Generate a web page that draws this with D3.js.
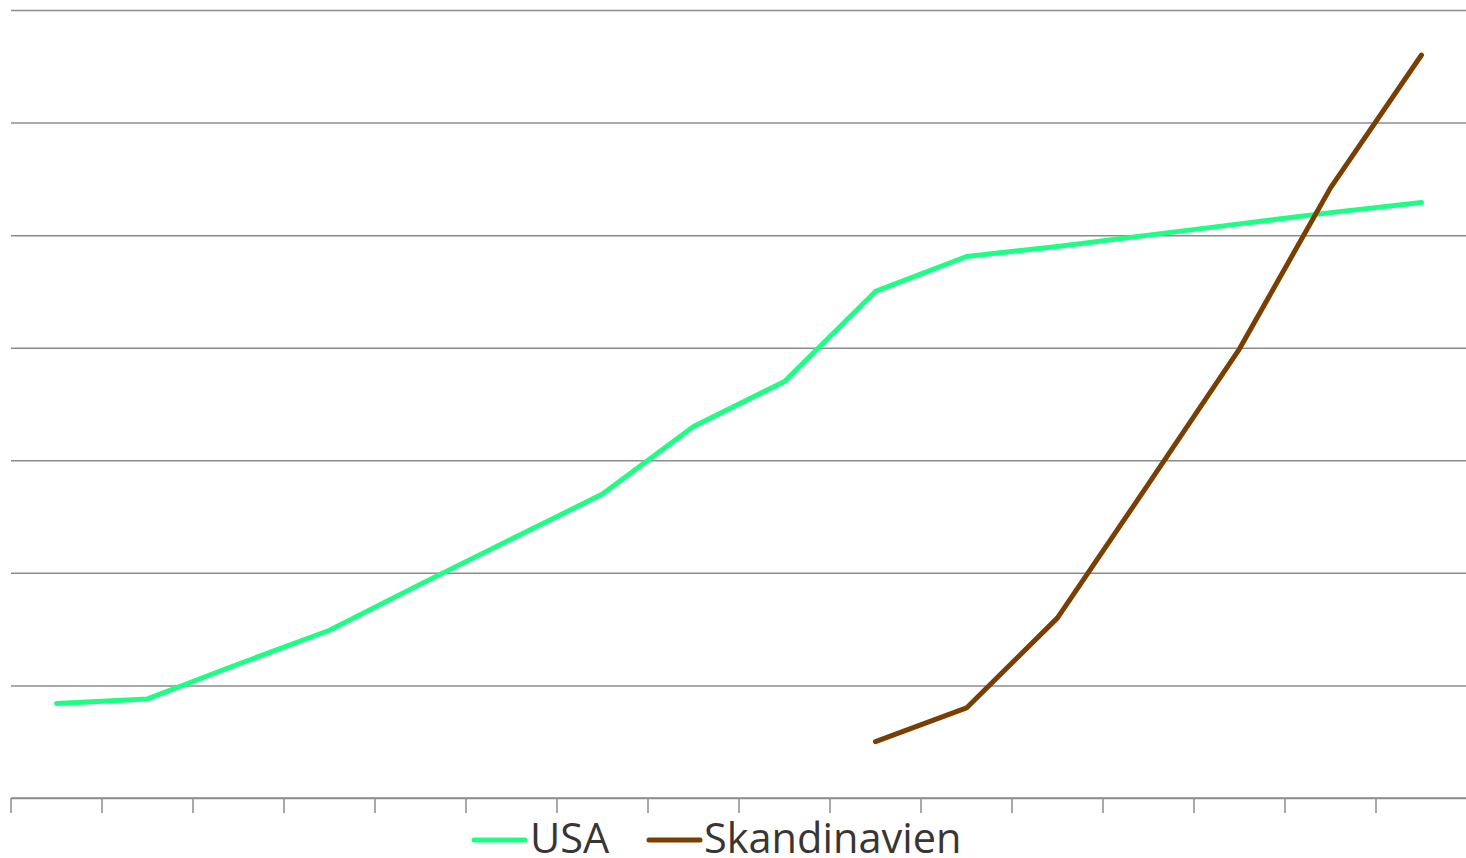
<!DOCTYPE html>
<html>
<head>
<meta charset="utf-8">
<script src="https://cdn.jsdelivr.net/npm/d3@7"></script>
<style>
  html, body { margin: 0; padding: 0; background: #fff; }
  svg { display: block; }
</style>
</head>
<body>
<svg id="chart" width="1466" height="858"></svg>
<script>
// ---- data ----
const categories = ["1","2","3","4","5","6","7","8","9","10","11","12","13","14","15","16"];
const usaValues = [0.84, 0.88, 1.19, 1.49, 1.90, 2.30, 2.70, 3.30, 3.70, 4.50, 4.81, 4.90, 5.00, 5.10, 5.20, 5.29];
const skandValues = [null, null, null, null, null, null, null, null, null, 0.50, 0.80, 1.60, 2.79, 3.99, 5.42, 6.60];
const yTicks = [0, 1, 2, 3, 4, 5, 6, 7];
const seriesNames = ["USA", "Skandinavien"];
const seriesColors = ["#1dff84", "#7a3e00"];

// ---- layout ----
const svg = d3.select("#chart");
const plotLeft = 11, plotRight = 1467, plotTop = 10, plotBottom = 798;

const x = d3.scaleBand().domain(categories).range([plotLeft, plotRight]).paddingInner(0).paddingOuter(0);
const y = d3.scaleLinear().domain([0, 7]).range([plotBottom, plotTop]);

// gridlines
svg.append("g")
  .attr("transform", `translate(${plotLeft},0)`)
  .call(d3.axisLeft(y).tickValues(yTicks).tickSize(-(1466 - plotLeft)).tickFormat(""))
  .call(g => g.select(".domain").remove())
  .call(g => g.selectAll(".tick line").attr("stroke", "#8c8c8c").attr("stroke-width", 1.5));

// x axis with ticks at band edges
const edgeAxis = svg.append("g").attr("transform", `translate(0,${plotBottom})`);
edgeAxis.append("line")
  .attr("x1", plotLeft).attr("x2", 1466).attr("y1", 0).attr("y2", 0)
  .attr("stroke", "#8c8c8c").attr("stroke-width", 1.5);
const edges = categories.map(c => x(c)).concat([x(categories[categories.length - 1]) + x.bandwidth()]);
edgeAxis.selectAll("line.tk").data(edges).join("line")
  .attr("class", "tk")
  .attr("x1", d => d).attr("x2", d => d)
  .attr("y1", 0).attr("y2", 15)
  .attr("stroke", "#8c8c8c").attr("stroke-width", 1.5);

// lines
const lineGen = d3.line()
  .defined(d => d.v !== null)
  .x(d => x(d.c) + x.bandwidth() / 2)
  .y(d => y(d.v));

[usaValues, skandValues].forEach((vals, i) => {
  const data = categories.map((c, j) => ({ c, v: vals[j] }));
  svg.append("path")
    .datum(data)
    .attr("d", lineGen)
    .attr("fill", "none")
    .attr("stroke", seriesColors[i])
    .attr("stroke-width", 5)
    .attr("stroke-linecap", "round")
    .attr("stroke-linejoin", "round");
});

// legend
const legend = svg.append("g").attr("font-family", "'Open Sans', sans-serif").attr("font-size", 41.5).attr("fill", "#3a3535");
const legendItems = [
  { name: seriesNames[0], color: seriesColors[0], x0: 474, x1: 525, tx: 530 },
  { name: seriesNames[1], color: seriesColors[1], x0: 649, x1: 700, tx: 704 }
];
legendItems.forEach(it => {
  legend.append("line")
    .attr("x1", it.x0).attr("x2", it.x1).attr("y1", 840).attr("y2", 840)
    .attr("stroke", it.color).attr("stroke-width", 5).attr("stroke-linecap", "round");
  legend.append("text").attr("x", it.tx).attr("y", 853).text(it.name);
});
</script>
</body>
</html>
